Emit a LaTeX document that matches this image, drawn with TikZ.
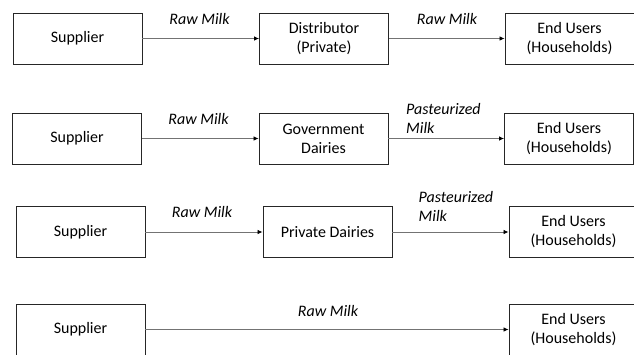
\documentclass[tikz,border=0pt]{standalone}
\usepackage{fontspec}
\setmainfont{Carlito}
\usetikzlibrary{arrows.meta}
\tikzset{ box/.style = { rectangle % actor
, draw = black!85
, line width = 0.9pt
, minimum width = 129pt
, minimum height = 51pt
, align = center
, font = \fontsize{16}{19}\selectfont
}
, lbl/.style = { rectangle % flow label
, inner sep = 0pt
, font = \fontsize{16}{19}\selectfont\itshape
}
, flow/.style = { draw = black!55 % connector
, line width = 0.8pt
, -{Latex[length=5pt,width=4.5pt,black]}
}
}

\begin{document}
\begin{tikzpicture}[x=1pt, y=-1pt]
                    \useasboundingbox (0,0) rectangle (634,354);
                    \clip (0,0) rectangle (634,354);
                    % private distributor chain
                    \node[box] (s1) at ( 77.5, 38.5) {Supplier};
                    \node[box] (m1) at (324.0, 38.5) {Distributor\\(Private)};
                    \node[box] (e1) at (569.5, 38.5) {End Users\\(Households)};
                    % government dairies chain
                    \node[box] (s2) at ( 77.0,138.5) {Supplier};
                    \node[box] (m2) at (323.5,138.5) {Government\\Dairies};
                    \node[box] (e2) at (569.0,138.5) {End Users\\(Households)};
                    % private dairies chain
                    \node[box] (s3) at ( 80.5,232.0) {Supplier};
                    \node[box] (m3) at (327.5,232.0) {Private Dairies};
                    \node[box] (e3) at (573.5,232.0) {End Users\\(Households)};
                    % direct chain
                    \node[box] (s4) at ( 80.5,329.5) {Supplier};
                    \node[box] (e4) at (573.5,329.5) {End Users\\(Households)};

                    \foreach \a/\b in {s1/m1, m1/e1, s2/m2, m2/e2, s3/m3, m3/e3, s4/e4}
                        \draw[flow] (\a) -- (\b);

                    \node[lbl] (r1) at (199.5, 19) {Raw Milk};
                    \node[lbl] (r2) at (447.0, 19) {Raw Milk};
                    \node[lbl] (r3) at (198.5,119) {Raw Milk};
                    \node[lbl, anchor=west, align=left] (p2) at (406,118.5) {Pasteurized\\Milk};
                    \node[lbl] (r4) at (202.0,212) {Raw Milk};
                    \node[lbl, anchor=west, align=left] (p3) at (418.5,206) {Pasteurized\\Milk};
                    \node[lbl] (r5) at (328.0,311) {Raw Milk};
                \end{tikzpicture}
\end{document}
